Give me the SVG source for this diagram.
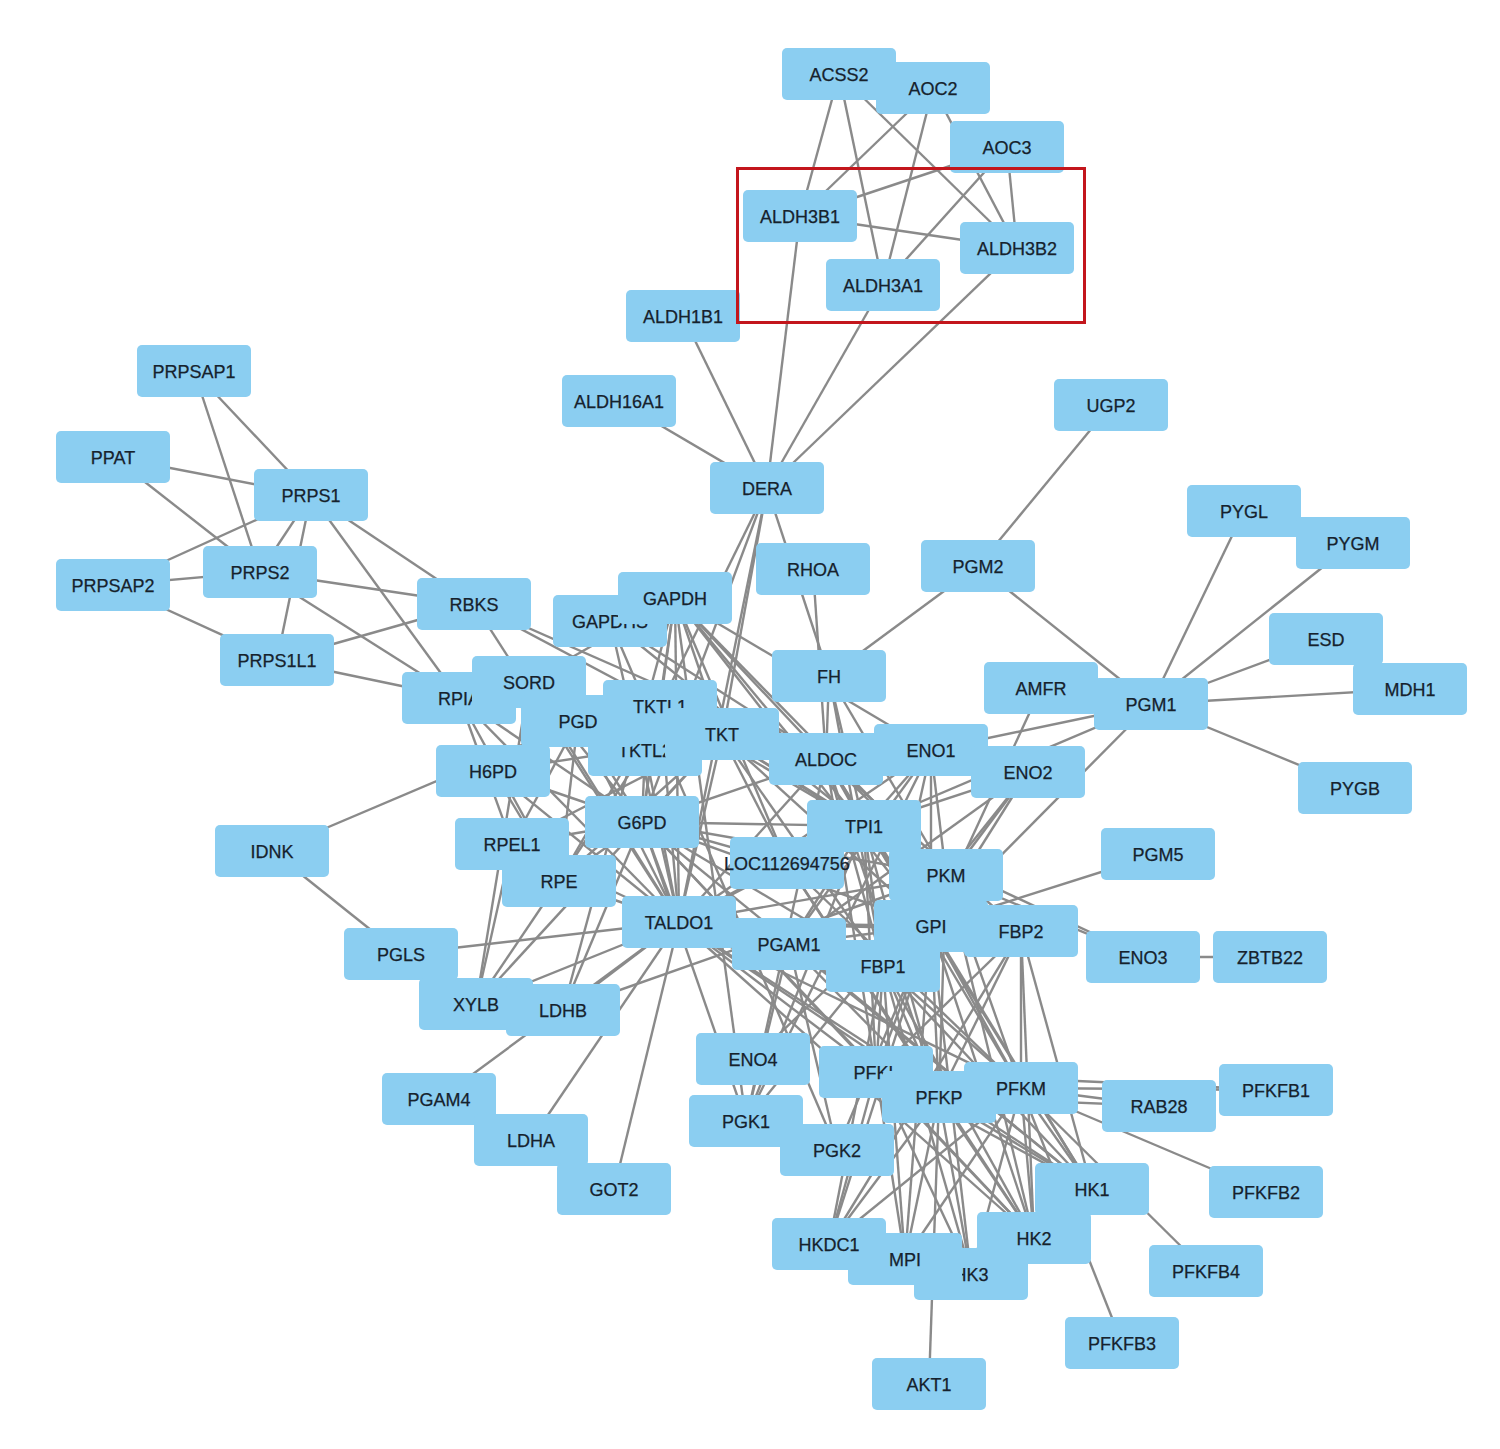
<svg xmlns="http://www.w3.org/2000/svg" width="1500" height="1449" viewBox="0 0 1500 1449">
<style>
.e line{stroke:#8a8a8a;stroke-width:2.4}
.n rect{fill:#8BCEF1}
.n text{font-family:"Liberation Sans",Arial,sans-serif;font-size:18px;fill:#16222d;stroke:#16222d;stroke-width:0.25;text-anchor:middle}
</style>
<rect width="1500" height="1449" fill="#ffffff"/>
<g id="edges" class="e">
<line x1="839" y1="74" x2="800" y2="216"/><line x1="839" y1="74" x2="883" y2="285"/><line x1="839" y1="74" x2="1017" y2="248"/>
<line x1="933" y1="88" x2="800" y2="216"/><line x1="933" y1="88" x2="883" y2="285"/><line x1="933" y1="88" x2="1017" y2="248"/>
<line x1="1007" y1="147" x2="800" y2="216"/><line x1="1007" y1="147" x2="883" y2="285"/><line x1="1007" y1="147" x2="1017" y2="248"/>
<line x1="800" y1="216" x2="1017" y2="248"/><line x1="800" y1="216" x2="767" y2="488"/><line x1="883" y1="285" x2="767" y2="488"/>
<line x1="1017" y1="248" x2="767" y2="488"/><line x1="683" y1="316" x2="767" y2="488"/><line x1="619" y1="401" x2="767" y2="488"/>
<line x1="767" y1="488" x2="829" y2="676"/><line x1="767" y1="488" x2="679" y2="922"/><line x1="767" y1="488" x2="660" y2="706"/>
<line x1="767" y1="488" x2="642" y2="822"/><line x1="767" y1="488" x2="722" y2="736"/>
<line x1="1111" y1="405" x2="978" y2="566"/><line x1="978" y1="566" x2="1151" y2="704"/><line x1="978" y1="566" x2="829" y2="676"/>
<line x1="1151" y1="704" x2="1244" y2="511"/><line x1="1151" y1="704" x2="1353" y2="543"/><line x1="1151" y1="704" x2="1326" y2="639"/>
<line x1="1151" y1="704" x2="1410" y2="689"/><line x1="1151" y1="704" x2="1355" y2="788"/><line x1="1151" y1="704" x2="931" y2="750"/>
<line x1="1151" y1="704" x2="864" y2="826"/><line x1="1151" y1="704" x2="931" y2="926"/><line x1="1041" y1="688" x2="931" y2="926"/>
<line x1="194" y1="371" x2="311" y2="495"/><line x1="194" y1="371" x2="260" y2="572"/><line x1="113" y1="457" x2="311" y2="495"/>
<line x1="113" y1="457" x2="260" y2="572"/><line x1="113" y1="585" x2="311" y2="495"/><line x1="113" y1="585" x2="260" y2="572"/>
<line x1="113" y1="585" x2="277" y2="660"/><line x1="311" y1="495" x2="260" y2="572"/><line x1="311" y1="495" x2="277" y2="660"/>
<line x1="311" y1="495" x2="474" y2="604"/><line x1="311" y1="495" x2="459" y2="698"/><line x1="260" y1="572" x2="474" y2="604"/>
<line x1="260" y1="572" x2="459" y2="698"/><line x1="277" y1="660" x2="474" y2="604"/><line x1="277" y1="660" x2="459" y2="698"/>
<line x1="474" y1="604" x2="722" y2="736"/><line x1="474" y1="604" x2="679" y2="922"/><line x1="474" y1="604" x2="826" y2="759"/>
<line x1="459" y1="698" x2="559" y2="881"/><line x1="459" y1="698" x2="512" y2="844"/><line x1="459" y1="698" x2="722" y2="736"/>
<line x1="459" y1="698" x2="679" y2="922"/><line x1="459" y1="698" x2="642" y2="822"/><line x1="459" y1="698" x2="660" y2="706"/>
<line x1="529" y1="682" x2="679" y2="922"/><line x1="529" y1="682" x2="642" y2="822"/><line x1="529" y1="682" x2="476" y2="1004"/>
<line x1="529" y1="682" x2="722" y2="736"/><line x1="529" y1="682" x2="675" y2="598"/>
<line x1="578" y1="721" x2="642" y2="822"/><line x1="578" y1="721" x2="679" y2="922"/><line x1="578" y1="721" x2="722" y2="736"/>
<line x1="578" y1="721" x2="559" y2="881"/><line x1="578" y1="721" x2="493" y2="771"/><line x1="578" y1="721" x2="512" y2="844"/>
<line x1="578" y1="721" x2="272" y2="851"/>
<line x1="642" y1="822" x2="722" y2="736"/><line x1="642" y1="822" x2="679" y2="922"/><line x1="642" y1="822" x2="493" y2="771"/>
<line x1="642" y1="822" x2="559" y2="881"/><line x1="642" y1="822" x2="660" y2="706"/><line x1="642" y1="822" x2="645" y2="750"/>
<line x1="642" y1="822" x2="931" y2="926"/><line x1="642" y1="822" x2="864" y2="826"/><line x1="642" y1="822" x2="946" y2="875"/>
<line x1="642" y1="822" x2="1092" y2="1189"/><line x1="642" y1="822" x2="1034" y2="1238"/><line x1="642" y1="822" x2="675" y2="598"/>
<line x1="642" y1="822" x2="563" y2="1010"/><line x1="642" y1="822" x2="876" y2="1072"/><line x1="642" y1="822" x2="826" y2="759"/>
<line x1="642" y1="822" x2="883" y2="966"/><line x1="642" y1="822" x2="746" y2="1121"/><line x1="642" y1="822" x2="512" y2="844"/>
<line x1="642" y1="822" x2="787" y2="863"/>
<line x1="493" y1="771" x2="679" y2="922"/><line x1="493" y1="771" x2="722" y2="736"/><line x1="493" y1="771" x2="559" y2="881"/>
<line x1="722" y1="736" x2="679" y2="922"/><line x1="722" y1="736" x2="559" y2="881"/><line x1="722" y1="736" x2="512" y2="844"/>
<line x1="722" y1="736" x2="675" y2="598"/><line x1="722" y1="736" x2="864" y2="826"/><line x1="722" y1="736" x2="826" y2="759"/>
<line x1="722" y1="736" x2="931" y2="926"/><line x1="722" y1="736" x2="883" y2="966"/><line x1="722" y1="736" x2="476" y2="1004"/>
<line x1="722" y1="736" x2="946" y2="875"/><line x1="722" y1="736" x2="787" y2="863"/>
<line x1="660" y1="706" x2="679" y2="922"/><line x1="660" y1="706" x2="559" y2="881"/><line x1="660" y1="706" x2="675" y2="598"/>
<line x1="660" y1="706" x2="864" y2="826"/><line x1="645" y1="750" x2="679" y2="922"/><line x1="645" y1="750" x2="559" y2="881"/>
<line x1="645" y1="750" x2="826" y2="759"/><line x1="559" y1="881" x2="679" y2="922"/><line x1="512" y1="844" x2="679" y2="922"/>
<line x1="679" y1="922" x2="401" y2="954"/><line x1="679" y1="922" x2="476" y2="1004"/><line x1="679" y1="922" x2="563" y2="1010"/>
<line x1="679" y1="922" x2="531" y2="1140"/><line x1="679" y1="922" x2="614" y2="1189"/><line x1="679" y1="922" x2="439" y2="1099"/>
<line x1="679" y1="922" x2="931" y2="926"/><line x1="679" y1="922" x2="864" y2="826"/><line x1="679" y1="922" x2="883" y2="966"/>
<line x1="679" y1="922" x2="876" y2="1072"/><line x1="679" y1="922" x2="939" y2="1097"/><line x1="679" y1="922" x2="1021" y2="1088"/>
<line x1="679" y1="922" x2="826" y2="759"/><line x1="679" y1="922" x2="675" y2="598"/><line x1="679" y1="922" x2="610" y2="621"/>
<line x1="679" y1="922" x2="931" y2="750"/><line x1="679" y1="922" x2="946" y2="875"/><line x1="679" y1="922" x2="1092" y2="1189"/>
<line x1="679" y1="922" x2="1034" y2="1238"/><line x1="679" y1="922" x2="1021" y2="931"/><line x1="679" y1="922" x2="789" y2="944"/>
<line x1="679" y1="922" x2="787" y2="863"/>
<line x1="476" y1="1004" x2="512" y2="844"/><line x1="476" y1="1004" x2="559" y2="881"/><line x1="563" y1="1010" x2="675" y2="598"/>
<line x1="563" y1="1010" x2="946" y2="875"/><line x1="401" y1="954" x2="272" y2="851"/>
<line x1="675" y1="598" x2="610" y2="621"/><line x1="675" y1="598" x2="826" y2="759"/><line x1="675" y1="598" x2="864" y2="826"/>
<line x1="675" y1="598" x2="946" y2="875"/><line x1="675" y1="598" x2="931" y2="750"/><line x1="675" y1="598" x2="931" y2="926"/>
<line x1="675" y1="598" x2="746" y2="1121"/><line x1="675" y1="598" x2="787" y2="863"/>
<line x1="610" y1="621" x2="864" y2="826"/><line x1="610" y1="621" x2="837" y2="1150"/><line x1="610" y1="621" x2="826" y2="759"/>
<line x1="813" y1="569" x2="826" y2="759"/>
<line x1="829" y1="676" x2="826" y2="759"/><line x1="829" y1="676" x2="864" y2="826"/><line x1="829" y1="676" x2="883" y2="966"/>
<line x1="829" y1="676" x2="946" y2="875"/>
<line x1="826" y1="759" x2="864" y2="826"/><line x1="826" y1="759" x2="931" y2="926"/><line x1="826" y1="759" x2="946" y2="875"/>
<line x1="826" y1="759" x2="883" y2="966"/><line x1="826" y1="759" x2="876" y2="1072"/><line x1="826" y1="759" x2="939" y2="1097"/>
<line x1="826" y1="759" x2="1021" y2="1088"/><line x1="826" y1="759" x2="931" y2="750"/><line x1="826" y1="759" x2="746" y2="1121"/>
<line x1="826" y1="759" x2="1021" y2="931"/><line x1="826" y1="759" x2="1092" y2="1189"/>
<line x1="931" y1="750" x2="946" y2="875"/><line x1="931" y1="750" x2="931" y2="926"/><line x1="931" y1="750" x2="864" y2="826"/>
<line x1="931" y1="750" x2="789" y2="944"/><line x1="931" y1="750" x2="746" y2="1121"/><line x1="931" y1="750" x2="883" y2="966"/>
<line x1="1028" y1="772" x2="946" y2="875"/><line x1="1028" y1="772" x2="931" y2="926"/><line x1="1028" y1="772" x2="864" y2="826"/>
<line x1="1028" y1="772" x2="789" y2="944"/><line x1="1028" y1="772" x2="883" y2="966"/>
<line x1="1158" y1="854" x2="931" y2="926"/>
<line x1="864" y1="826" x2="931" y2="926"/><line x1="864" y1="826" x2="946" y2="875"/><line x1="864" y1="826" x2="883" y2="966"/>
<line x1="864" y1="826" x2="789" y2="944"/><line x1="864" y1="826" x2="746" y2="1121"/><line x1="864" y1="826" x2="876" y2="1072"/>
<line x1="864" y1="826" x2="939" y2="1097"/><line x1="864" y1="826" x2="1143" y2="957"/><line x1="864" y1="826" x2="787" y2="863"/>
<line x1="946" y1="875" x2="931" y2="926"/><line x1="946" y1="875" x2="746" y2="1121"/><line x1="946" y1="875" x2="1021" y2="1088"/>
<line x1="946" y1="875" x2="939" y2="1097"/><line x1="946" y1="875" x2="1034" y2="1238"/><line x1="946" y1="875" x2="1143" y2="957"/>
<line x1="946" y1="875" x2="753" y2="1059"/>
<line x1="931" y1="926" x2="883" y2="966"/><line x1="931" y1="926" x2="876" y2="1072"/><line x1="931" y1="926" x2="939" y2="1097"/>
<line x1="931" y1="926" x2="1021" y2="1088"/><line x1="931" y1="926" x2="1092" y2="1189"/><line x1="931" y1="926" x2="1034" y2="1238"/>
<line x1="931" y1="926" x2="971" y2="1274"/><line x1="931" y1="926" x2="829" y2="1244"/><line x1="931" y1="926" x2="905" y2="1259"/>
<line x1="931" y1="926" x2="789" y2="944"/><line x1="931" y1="926" x2="1021" y2="931"/>
<line x1="883" y1="966" x2="876" y2="1072"/><line x1="883" y1="966" x2="939" y2="1097"/><line x1="883" y1="966" x2="1021" y2="1088"/>
<line x1="883" y1="966" x2="1092" y2="1189"/><line x1="883" y1="966" x2="1034" y2="1238"/><line x1="883" y1="966" x2="971" y2="1274"/>
<line x1="883" y1="966" x2="829" y2="1244"/><line x1="883" y1="966" x2="905" y2="1259"/><line x1="883" y1="966" x2="1021" y2="931"/>
<line x1="1021" y1="931" x2="1021" y2="1088"/><line x1="1021" y1="931" x2="876" y2="1072"/><line x1="1021" y1="931" x2="939" y2="1097"/>
<line x1="1021" y1="931" x2="1034" y2="1238"/><line x1="1021" y1="931" x2="1092" y2="1189"/><line x1="1021" y1="931" x2="829" y2="1244"/>
<line x1="789" y1="944" x2="746" y2="1121"/><line x1="789" y1="944" x2="837" y2="1150"/><line x1="789" y1="944" x2="939" y2="1097"/>
<line x1="789" y1="944" x2="1092" y2="1189"/>
<line x1="787" y1="863" x2="1021" y2="1088"/><line x1="787" y1="863" x2="1034" y2="1238"/><line x1="787" y1="863" x2="939" y2="1097"/>
<line x1="1143" y1="957" x2="1270" y2="957"/><line x1="837" y1="1150" x2="931" y2="926"/>
<line x1="876" y1="1072" x2="939" y2="1097"/><line x1="876" y1="1072" x2="1021" y2="1088"/><line x1="939" y1="1097" x2="1021" y2="1088"/>
<line x1="876" y1="1072" x2="1092" y2="1189"/><line x1="876" y1="1072" x2="1034" y2="1238"/><line x1="876" y1="1072" x2="971" y2="1274"/>
<line x1="876" y1="1072" x2="829" y2="1244"/><line x1="876" y1="1072" x2="905" y2="1259"/>
<line x1="939" y1="1097" x2="1092" y2="1189"/><line x1="939" y1="1097" x2="1034" y2="1238"/><line x1="939" y1="1097" x2="971" y2="1274"/>
<line x1="939" y1="1097" x2="829" y2="1244"/><line x1="939" y1="1097" x2="905" y2="1259"/>
<line x1="1021" y1="1088" x2="1092" y2="1189"/><line x1="1021" y1="1088" x2="1034" y2="1238"/><line x1="1021" y1="1088" x2="971" y2="1274"/>
<line x1="1021" y1="1088" x2="829" y2="1244"/><line x1="1021" y1="1088" x2="905" y2="1259"/><line x1="1021" y1="1088" x2="1159" y2="1106"/>
<line x1="1021" y1="1088" x2="1276" y2="1090"/><line x1="1021" y1="1088" x2="1266" y2="1192"/><line x1="1021" y1="1088" x2="1122" y2="1343"/>
<line x1="1021" y1="1088" x2="1206" y2="1271"/><line x1="939" y1="1097" x2="1159" y2="1106"/><line x1="876" y1="1072" x2="1276" y2="1090"/>
<line x1="929" y1="1384" x2="939" y2="1097"/>
</g>
<g id="nodes">
<g id="n-ACSS2" class="n" transform="translate(839,74)"><rect x="-57" y="-26" width="114" height="52" rx="5"/><text y="6.5">ACSS2</text></g>
<g id="n-AOC2" class="n" transform="translate(933,88)"><rect x="-57" y="-26" width="114" height="52" rx="5"/><text y="6.5">AOC2</text></g>
<g id="n-AOC3" class="n" transform="translate(1007,147)"><rect x="-57" y="-26" width="114" height="52" rx="5"/><text y="6.5">AOC3</text></g>
<g id="n-ALDH3B1" class="n" transform="translate(800,216)"><rect x="-57" y="-26" width="114" height="52" rx="5"/><text y="6.5">ALDH3B1</text></g>
<g id="n-ALDH3B2" class="n" transform="translate(1017,248)"><rect x="-57" y="-26" width="114" height="52" rx="5"/><text y="6.5">ALDH3B2</text></g>
<g id="n-ALDH3A1" class="n" transform="translate(883,285)"><rect x="-57" y="-26" width="114" height="52" rx="5"/><text y="6.5">ALDH3A1</text></g>
<g id="n-ALDH1B1" class="n" transform="translate(683,316)"><rect x="-57" y="-26" width="114" height="52" rx="5"/><text y="6.5">ALDH1B1</text></g>
<g id="n-ALDH16A1" class="n" transform="translate(619,401)"><rect x="-57" y="-26" width="114" height="52" rx="5"/><text y="6.5">ALDH16A1</text></g>
<g id="n-DERA" class="n" transform="translate(767,488)"><rect x="-57" y="-26" width="114" height="52" rx="5"/><text y="6.5">DERA</text></g>
<g id="n-UGP2" class="n" transform="translate(1111,405)"><rect x="-57" y="-26" width="114" height="52" rx="5"/><text y="6.5">UGP2</text></g>
<g id="n-PRPSAP1" class="n" transform="translate(194,371)"><rect x="-57" y="-26" width="114" height="52" rx="5"/><text y="6.5">PRPSAP1</text></g>
<g id="n-PPAT" class="n" transform="translate(113,457)"><rect x="-57" y="-26" width="114" height="52" rx="5"/><text y="6.5">PPAT</text></g>
<g id="n-PRPS1" class="n" transform="translate(311,495)"><rect x="-57" y="-26" width="114" height="52" rx="5"/><text y="6.5">PRPS1</text></g>
<g id="n-PRPSAP2" class="n" transform="translate(113,585)"><rect x="-57" y="-26" width="114" height="52" rx="5"/><text y="6.5">PRPSAP2</text></g>
<g id="n-PRPS2" class="n" transform="translate(260,572)"><rect x="-57" y="-26" width="114" height="52" rx="5"/><text y="6.5">PRPS2</text></g>
<g id="n-PRPS1L1" class="n" transform="translate(277,660)"><rect x="-57" y="-26" width="114" height="52" rx="5"/><text y="6.5">PRPS1L1</text></g>
<g id="n-RBKS" class="n" transform="translate(474,604)"><rect x="-57" y="-26" width="114" height="52" rx="5"/><text y="6.5">RBKS</text></g>
<g id="n-GAPDHS" class="n" transform="translate(610,621)"><rect x="-57" y="-26" width="114" height="52" rx="5"/><text y="6.5">GAPDHS</text></g>
<g id="n-GAPDH" class="n" transform="translate(675,598)"><rect x="-57" y="-26" width="114" height="52" rx="5"/><text y="6.5">GAPDH</text></g>
<g id="n-RHOA" class="n" transform="translate(813,569)"><rect x="-57" y="-26" width="114" height="52" rx="5"/><text y="6.5">RHOA</text></g>
<g id="n-PGM2" class="n" transform="translate(978,566)"><rect x="-57" y="-26" width="114" height="52" rx="5"/><text y="6.5">PGM2</text></g>
<g id="n-PYGL" class="n" transform="translate(1244,511)"><rect x="-57" y="-26" width="114" height="52" rx="5"/><text y="6.5">PYGL</text></g>
<g id="n-PYGM" class="n" transform="translate(1353,543)"><rect x="-57" y="-26" width="114" height="52" rx="5"/><text y="6.5">PYGM</text></g>
<g id="n-ESD" class="n" transform="translate(1326,639)"><rect x="-57" y="-26" width="114" height="52" rx="5"/><text y="6.5">ESD</text></g>
<g id="n-MDH1" class="n" transform="translate(1410,689)"><rect x="-57" y="-26" width="114" height="52" rx="5"/><text y="6.5">MDH1</text></g>
<g id="n-AMFR" class="n" transform="translate(1041,688)"><rect x="-57" y="-26" width="114" height="52" rx="5"/><text y="6.5">AMFR</text></g>
<g id="n-PGM1" class="n" transform="translate(1151,704)"><rect x="-57" y="-26" width="114" height="52" rx="5"/><text y="6.5">PGM1</text></g>
<g id="n-PYGB" class="n" transform="translate(1355,788)"><rect x="-57" y="-26" width="114" height="52" rx="5"/><text y="6.5">PYGB</text></g>
<g id="n-FH" class="n" transform="translate(829,676)"><rect x="-57" y="-26" width="114" height="52" rx="5"/><text y="6.5">FH</text></g>
<g id="n-RPIA" class="n" transform="translate(459,698)"><rect x="-57" y="-26" width="114" height="52" rx="5"/><text y="6.5">RPIA</text></g>
<g id="n-SORD" class="n" transform="translate(529,682)"><rect x="-57" y="-26" width="114" height="52" rx="5"/><text y="6.5">SORD</text></g>
<g id="n-TKTL2" class="n" transform="translate(645,750)"><rect x="-57" y="-26" width="114" height="52" rx="5"/><text y="6.5">TKTL2</text></g>
<g id="n-PGD" class="n" transform="translate(578,721)"><rect x="-57" y="-26" width="114" height="52" rx="5"/><text y="6.5">PGD</text></g>
<g id="n-TKTL1" class="n" transform="translate(660,706)"><rect x="-57" y="-26" width="114" height="52" rx="5"/><text y="6.5">TKTL1</text></g>
<g id="n-TKT" class="n" transform="translate(722,734)"><rect x="-57" y="-26" width="114" height="52" rx="5"/><text y="6.5">TKT</text></g>
<g id="n-ALDOC" class="n" transform="translate(826,759)"><rect x="-57" y="-26" width="114" height="52" rx="5"/><text y="6.5">ALDOC</text></g>
<g id="n-ENO1" class="n" transform="translate(931,750)"><rect x="-57" y="-26" width="114" height="52" rx="5"/><text y="6.5">ENO1</text></g>
<g id="n-ENO2" class="n" transform="translate(1028,772)"><rect x="-57" y="-26" width="114" height="52" rx="5"/><text y="6.5">ENO2</text></g>
<g id="n-H6PD" class="n" transform="translate(493,771)"><rect x="-57" y="-26" width="114" height="52" rx="5"/><text y="6.5">H6PD</text></g>
<g id="n-G6PD" class="n" transform="translate(642,822)"><rect x="-57" y="-26" width="114" height="52" rx="5"/><text y="6.5">G6PD</text></g>
<g id="n-TPI1" class="n" transform="translate(864,826)"><rect x="-57" y="-26" width="114" height="52" rx="5"/><text y="6.5">TPI1</text></g>
<g id="n-LOC112694756" class="n" transform="translate(787,863)"><rect x="-57" y="-26" width="114" height="52" rx="5"/><text y="6.5">LOC112694756</text></g>
<g id="n-PKM" class="n" transform="translate(946,875)"><rect x="-57" y="-26" width="114" height="52" rx="5"/><text y="6.5">PKM</text></g>
<g id="n-GPI" class="n" transform="translate(931,926)"><rect x="-57" y="-26" width="114" height="52" rx="5"/><text y="6.5">GPI</text></g>
<g id="n-FBP2" class="n" transform="translate(1021,931)"><rect x="-57" y="-26" width="114" height="52" rx="5"/><text y="6.5">FBP2</text></g>
<g id="n-RPEL1" class="n" transform="translate(512,844)"><rect x="-57" y="-26" width="114" height="52" rx="5"/><text y="6.5">RPEL1</text></g>
<g id="n-RPE" class="n" transform="translate(559,881)"><rect x="-57" y="-26" width="114" height="52" rx="5"/><text y="6.5">RPE</text></g>
<g id="n-IDNK" class="n" transform="translate(272,851)"><rect x="-57" y="-26" width="114" height="52" rx="5"/><text y="6.5">IDNK</text></g>
<g id="n-PGM5" class="n" transform="translate(1158,854)"><rect x="-57" y="-26" width="114" height="52" rx="5"/><text y="6.5">PGM5</text></g>
<g id="n-TALDO1" class="n" transform="translate(679,922)"><rect x="-57" y="-26" width="114" height="52" rx="5"/><text y="6.5">TALDO1</text></g>
<g id="n-PGAM1" class="n" transform="translate(789,944)"><rect x="-57" y="-26" width="114" height="52" rx="5"/><text y="6.5">PGAM1</text></g>
<g id="n-FBP1" class="n" transform="translate(883,966)"><rect x="-57" y="-26" width="114" height="52" rx="5"/><text y="6.5">FBP1</text></g>
<g id="n-ENO3" class="n" transform="translate(1143,957)"><rect x="-57" y="-26" width="114" height="52" rx="5"/><text y="6.5">ENO3</text></g>
<g id="n-ZBTB22" class="n" transform="translate(1270,957)"><rect x="-57" y="-26" width="114" height="52" rx="5"/><text y="6.5">ZBTB22</text></g>
<g id="n-PGLS" class="n" transform="translate(401,954)"><rect x="-57" y="-26" width="114" height="52" rx="5"/><text y="6.5">PGLS</text></g>
<g id="n-XYLB" class="n" transform="translate(476,1004)"><rect x="-57" y="-26" width="114" height="52" rx="5"/><text y="6.5">XYLB</text></g>
<g id="n-LDHB" class="n" transform="translate(563,1010)"><rect x="-57" y="-26" width="114" height="52" rx="5"/><text y="6.5">LDHB</text></g>
<g id="n-ENO4" class="n" transform="translate(753,1059)"><rect x="-57" y="-26" width="114" height="52" rx="5"/><text y="6.5">ENO4</text></g>
<g id="n-PFKL" class="n" transform="translate(876,1072)"><rect x="-57" y="-26" width="114" height="52" rx="5"/><text y="6.5">PFKL</text></g>
<g id="n-PFKP" class="n" transform="translate(939,1097)"><rect x="-57" y="-26" width="114" height="52" rx="5"/><text y="6.5">PFKP</text></g>
<g id="n-PFKM" class="n" transform="translate(1021,1088)"><rect x="-57" y="-26" width="114" height="52" rx="5"/><text y="6.5">PFKM</text></g>
<g id="n-RAB28" class="n" transform="translate(1159,1106)"><rect x="-57" y="-26" width="114" height="52" rx="5"/><text y="6.5">RAB28</text></g>
<g id="n-PFKFB1" class="n" transform="translate(1276,1090)"><rect x="-57" y="-26" width="114" height="52" rx="5"/><text y="6.5">PFKFB1</text></g>
<g id="n-PGAM4" class="n" transform="translate(439,1099)"><rect x="-57" y="-26" width="114" height="52" rx="5"/><text y="6.5">PGAM4</text></g>
<g id="n-LDHA" class="n" transform="translate(531,1140)"><rect x="-57" y="-26" width="114" height="52" rx="5"/><text y="6.5">LDHA</text></g>
<g id="n-GOT2" class="n" transform="translate(614,1189)"><rect x="-57" y="-26" width="114" height="52" rx="5"/><text y="6.5">GOT2</text></g>
<g id="n-PGK1" class="n" transform="translate(746,1121)"><rect x="-57" y="-26" width="114" height="52" rx="5"/><text y="6.5">PGK1</text></g>
<g id="n-PGK2" class="n" transform="translate(837,1150)"><rect x="-57" y="-26" width="114" height="52" rx="5"/><text y="6.5">PGK2</text></g>
<g id="n-HK1" class="n" transform="translate(1092,1189)"><rect x="-57" y="-26" width="114" height="52" rx="5"/><text y="6.5">HK1</text></g>
<g id="n-PFKFB2" class="n" transform="translate(1266,1192)"><rect x="-57" y="-26" width="114" height="52" rx="5"/><text y="6.5">PFKFB2</text></g>
<g id="n-HK2" class="n" transform="translate(1034,1238)"><rect x="-57" y="-26" width="114" height="52" rx="5"/><text y="6.5">HK2</text></g>
<g id="n-HK3" class="n" transform="translate(971,1274)"><rect x="-57" y="-26" width="114" height="52" rx="5"/><text y="6.5">HK3</text></g>
<g id="n-MPI" class="n" transform="translate(905,1259)"><rect x="-57" y="-26" width="114" height="52" rx="5"/><text y="6.5">MPI</text></g>
<g id="n-HKDC1" class="n" transform="translate(829,1244)"><rect x="-57" y="-26" width="114" height="52" rx="5"/><text y="6.5">HKDC1</text></g>
<g id="n-PFKFB4" class="n" transform="translate(1206,1271)"><rect x="-57" y="-26" width="114" height="52" rx="5"/><text y="6.5">PFKFB4</text></g>
<g id="n-PFKFB3" class="n" transform="translate(1122,1343)"><rect x="-57" y="-26" width="114" height="52" rx="5"/><text y="6.5">PFKFB3</text></g>
<g id="n-AKT1" class="n" transform="translate(929,1384)"><rect x="-57" y="-26" width="114" height="52" rx="5"/><text y="6.5">AKT1</text></g>
</g>
<rect id="highlight" x="737.5" y="168.5" width="347" height="154" fill="none" stroke="#c3161c" stroke-width="3"/>
</svg>
